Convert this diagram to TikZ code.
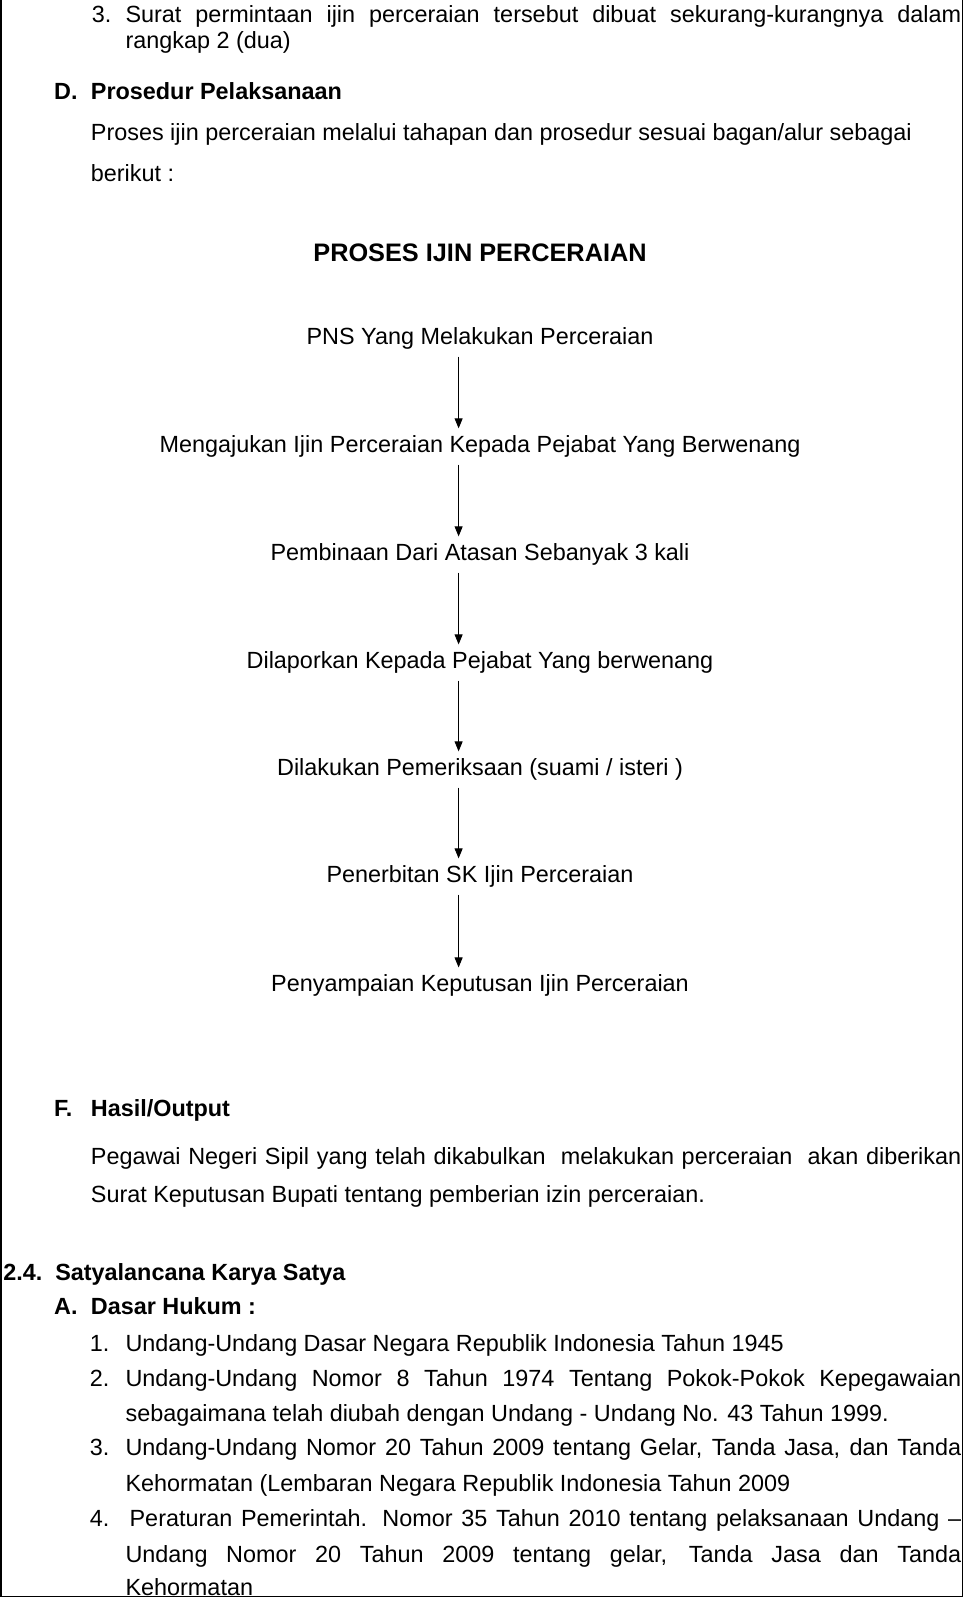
\documentclass[tikz,border=0pt]{standalone}
\usepackage{fontspec}
\setmainfont{Liberation Sans}
\usetikzlibrary{arrows.meta}
\begin{document}
\begin{tikzpicture}[x=1.019pt,y=-1.019pt,
  txt/.style={anchor=base west,inner sep=0pt,font=\fontsize{23.4}{26}\selectfont},
  bt/.style={txt,font=\fontsize{23.4}{26}\selectfont\bfseries},
  fl/.style={anchor=base,inner sep=0pt,font=\fontsize{23.4}{26}\selectfont},
  arr/.style={draw,line width=0.9pt,-{Triangle[length=10pt,width=8pt]}}]
\useasboundingbox (0,0) rectangle (946,1568);
\begin{scope}
\clip (0,0) rectangle (946,1568);
\draw[line width=1.2pt] (1,-5) -- (1,1566.5) -- (944.8,1566.5) -- (944.8,-5);
\newcommand\jl[4]{\node[txt] (#1) at (#2,#3) {\makebox[\dimexpr(943pt-#2pt)*1019/1000\relax][s]{#4}};}
\node[txt] (n3) at (90,22) {3.};
\jl{l3}{123}{22}{Surat permintaan ijin perceraian tersebut dibuat sekurang-kurangnya dalam}
\node[txt] (l3b) at (123,48) {rangkap 2 (dua)};
\node[bt] (dD) at (53,98) {D.};
\node[bt] (dT) at (89,98) {Prosedur Pelaksanaan};
\node[txt] (p1) at (89,138) {Proses ijin perceraian melalui tahapan dan prosedur sesuai bagan/alur sebagai};
\node[txt] (p2) at (89,178) {berikut :};
\node[fl,font=\fontsize{25.3}{28}\selectfont\bfseries] (title) at (471,257) {PROSES IJIN PERCERAIAN};
\node[fl] (s1) at (471,338) {PNS Yang Melakukan Perceraian};
\node[fl] (s2) at (471,444) {Mengajukan Ijin Perceraian Kepada Pejabat Yang Berwenang};
\node[fl] (s3) at (471,550) {Pembinaan Dari Atasan Sebanyak 3 kali};
\node[fl] (s4) at (471,656) {Dilaporkan Kepada Pejabat Yang berwenang};
\node[fl] (s5) at (471,761) {Dilakukan Pemeriksaan (suami / isteri )};
\node[fl] (s6) at (471,866) {Penerbitan SK Ijin Perceraian};
\node[fl] (s7) at (471,973) {Penyampaian Keputusan Ijin Perceraian};
\foreach \a/\b in {s1/s2,s2/s3,s3/s4,s4/s5,s5/s6,s6/s7}
  \draw[arr] ([yshift=-7pt]\a.south -| 450,0) -- ([yshift=7pt]\b.north -| 450,0);
\node[bt] (fF) at (53,1096) {F.};
\node[bt] (fT) at (89,1096) {Hasil/Output};
\jl{h1}{89}{1143}{Pegawai Negeri Sipil yang telah dikabulkan \ melakukan perceraian \ akan diberikan}
\node[txt] (h2) at (89,1180) {Surat Keputusan Bupati tentang pemberian izin perceraian.};
\node[bt] (s24) at (3,1256) {2.4.\ \ Satyalancana Karya Satya};
\node[bt] (aA) at (53,1290) {A.};
\node[bt] (aT) at (89,1290) {Dasar Hukum :};
\node[txt] (i1n) at (88,1326) {1.};
\node[txt] (i1) at (123,1326) {Undang-Undang Dasar Negara Republik Indonesia Tahun 1945};
\node[txt] (i2n) at (88,1360) {2.};
\jl{i2}{123}{1360}{Undang-Undang Nomor 8 Tahun 1974 Tentang Pokok-Pokok Kepegawaian}
\node[txt] (i2b) at (123,1395) {sebagaimana telah diubah dengan Undang - Undang No. 43 Tahun 1999.};
\node[txt] (i3n) at (88,1428) {3.};
\jl{i3}{123}{1428}{Undang-Undang Nomor 20 Tahun 2009 tentang Gelar, Tanda Jasa, dan Tanda}
\node[txt] (i3b) at (123,1463) {Kehormatan (Lembaran Negara Republik Indonesia Tahun 2009};
\node[txt] (i4n) at (88,1498) {4.};
\jl{i4}{127}{1498}{Peraturan Pemerintah. Nomor 35 Tahun 2010 tentang pelaksanaan Undang –}
\jl{i4b}{123}{1533}{Undang Nomor 20 Tahun 2009 tentang gelar, Tanda Jasa dan Tanda}
\node[txt] (i4c) at (123,1566) {Kehormatan};
\end{scope}
\end{tikzpicture}
\end{document}
